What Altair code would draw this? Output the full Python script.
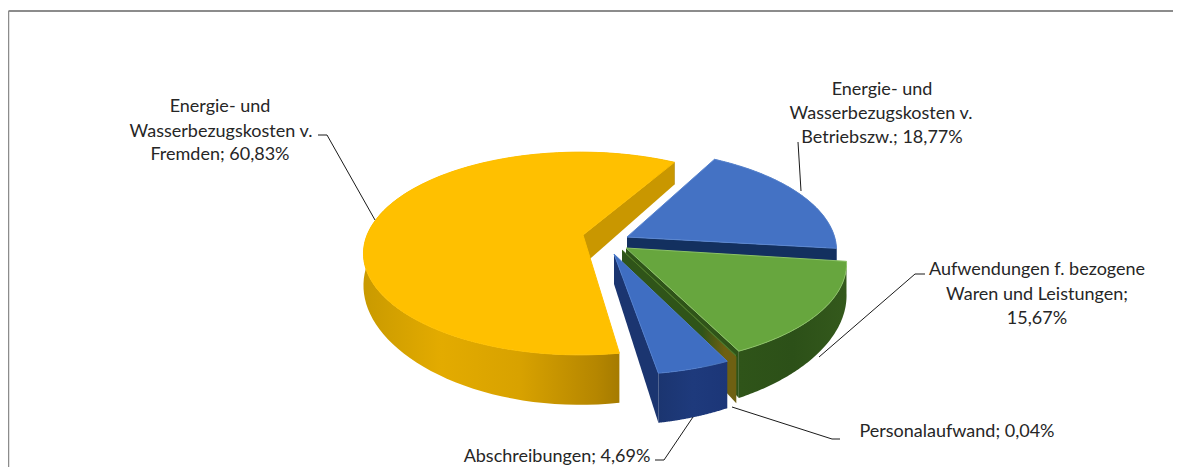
import numpy as np
import pandas as pd
import altair as alt

# --- values
names = ["Betriebszw", "Waren", "Personal", "Abschreibungen", "Fremden"]
shares = [18.77, 15.67, 0.04, 4.69, 60.83]
start_angle = 30.0

label_lines = [
    "Energie- und", "Wasserbezugskosten v.", "Fremden; 60,83%",
    "Energie- und", "Wasserbezugskosten v.", "Betriebszw.; 18,77%",
    "Aufwendungen f. bezogene", "Waren und Leistungen;", "15,67%",
    "Personalaufwand; 0,04%",
    "Abschreibungen; 4,69%",
]
label_x = [220, 221, 220, 882, 881, 882, 1037, 1037, 1037, 957, 557]
label_y = [105, 130, 153, 88, 112, 136, 268, 293, 317, 430, 455]

leaders = [
    [(318, 135), (327, 135), (375, 220)],
    [(798, 142), (801, 191)],
    [(925, 274), (915, 274), (819, 357)],
    [(840, 439), (832, 439), (732, 407)],
    [(655, 460), (664, 460), (693, 417)],
]

# inner point of each slice and centre of its rim, picture coordinates
apex = {
    "Betriebszw": (627, 237),
    "Waren": (626, 248),
    "Personal": (622, 250),
    "Abschreibungen": (614, 254),
    "Fremden": (583, 235),
}
centre = {
    "Betriebszw": (620, 235),
    "Waren": (630, 248),
    "Personal": (628, 253),
    "Abschreibungen": (619, 258),
    "Fremden": (580, 238),
}


def grad(*cols):
    n = len(cols) - 1
    return {"gradient": "linear", "x1": 0, "x2": 1, "y1": 0, "y2": 0,
            "stops": [{"offset": i / n, "color": c} for i, c in enumerate(cols)]}


top_col = {"Betriebszw": "#4472C4", "Waren": "#67A63E", "Personal": "#4F7A2C",
           "Abschreibungen": "#3F6EC2", "Fremden": "#FFC000"}
cut_col = {"Betriebszw": "#13305F", "Waren": "#2F5419",
           "Personal": grad(*["#2F5419"] * 8, "#4F5A15", "#6E6012", "#6E6012"),
           "Abschreibungen": "#1B3570", "Fremden": "#C99700"}
rim_col = {"Waren": "#8CC266", "Betriebszw": "#5A86D0", "Abschreibungen": "#4F7DCC",
           "Fremden": "#FFC000", "Personal": "#4F7A2C"}
wall_fill = {"Betriebszw": "#1F3D75", "Waren": grad("#2F5419", "#2C5018", "#34591C"),
             "Personal": "#6E6012", "Abschreibungen": grad("#1B3570", "#1E3A7C", "#1C3678"),
             "Fremden": grad("#C99A00", "#E3AB00", "#D8A200", "#B58600", "#7F6000")}

RX, RY, K, K2, D = 214, 99, 0.153, 0.4, 30


def top(theta, a):
    t = np.radians(theta)
    u, v = np.sin(t), -np.cos(t)
    s = 1 / (1 - K * v)
    return a[0] + u * RX * s, a[1] + v * RY * s


def down(theta):
    v = -np.cos(np.radians(theta))
    return D / (1 - K2 * v)


X = alt.X("x:Q", scale=alt.Scale(domain=[8, 1173], nice=False, zero=False), axis=None)
Y = alt.Y("y:Q", scale=alt.Scale(domain=[467, 8], nice=False, zero=False), axis=None)


def poly(points, fill, stroke=None, sw=1.0):
    df = pd.DataFrame(points, columns=["x", "y"])
    df["i"] = range(len(df))
    mk = alt.Chart(df).mark_line(
        fill=fill, stroke=stroke if stroke else "transparent",
        strokeWidth=sw if stroke else 0, clip=False, interpolate="linear")
    return mk.encode(x=X, y=Y, order=alt.Order("i:Q"))


edges = {}
a0 = start_angle
for n, s in zip(names, shares):
    edges[n] = (a0, a0 + s * 3.6)
    a0 += s * 3.6


def slice_layers(n, faces_before_top):
    a = apex[n]
    c = centre[n]
    t0, t1 = edges[n]
    ths = np.linspace(t0, t1, 90)
    arc = [top(t, c) for t in ths]
    wall = arc + [(x, y + down(t)) for t, (x, y) in reversed(list(zip(ths, arc)))]
    out = []
    for f in faces_before_top:
        if f == "wall":
            out.append(poly(wall, wall_fill[n]))
        else:
            x, y = top(t1, c)
            out.append(poly([a, (x, y), (x, y + down(t1)), (a[0], a[1] + D), a], cut_col[n]))
    out.append(poly([a] + arc + [a], top_col[n], stroke=rim_col[n], sw=1))
    return out


layers = [poly([(8.5, 11), (8.5, 467)], "transparent", "#8C8C8C", 1.5),
          poly([(8.5, 11), (1173, 11)], "transparent", "#8C8C8C", 2)]
layers += slice_layers("Fremden", ["wall", "end"])
layers += slice_layers("Betriebszw", ["wall", "end"])
layers += slice_layers("Waren", ["wall", "end"])
layers += slice_layers("Personal", ["end"])
layers += slice_layers("Abschreibungen", ["wall", "end"])

for pts in leaders:
    df = pd.DataFrame(pts, columns=["x", "y"])
    df["i"] = range(len(df))
    layers.append(alt.Chart(df).mark_line(color="#1a1a1a", strokeWidth=1, clip=False)
                  .encode(x=X, y=Y, order=alt.Order("i:Q")))

text_df = pd.DataFrame({"x": label_x, "y": label_y, "t": label_lines})
layers.append(alt.Chart(text_df).mark_text(font="Lato", fontSize=18, color="#262626",
                                           align="center", baseline="middle", dy=2)
              .encode(x=X, y=Y, text="t:N"))

chart = alt.layer(*layers).properties(
    width=1165, height=459, padding=0,
    autosize=alt.AutoSizeParams(type="none"),
    background="#FFFFFF",
).configure_view(stroke=None)

chart.save("out.html", embed_options={"renderer": "svg", "actions": False})
